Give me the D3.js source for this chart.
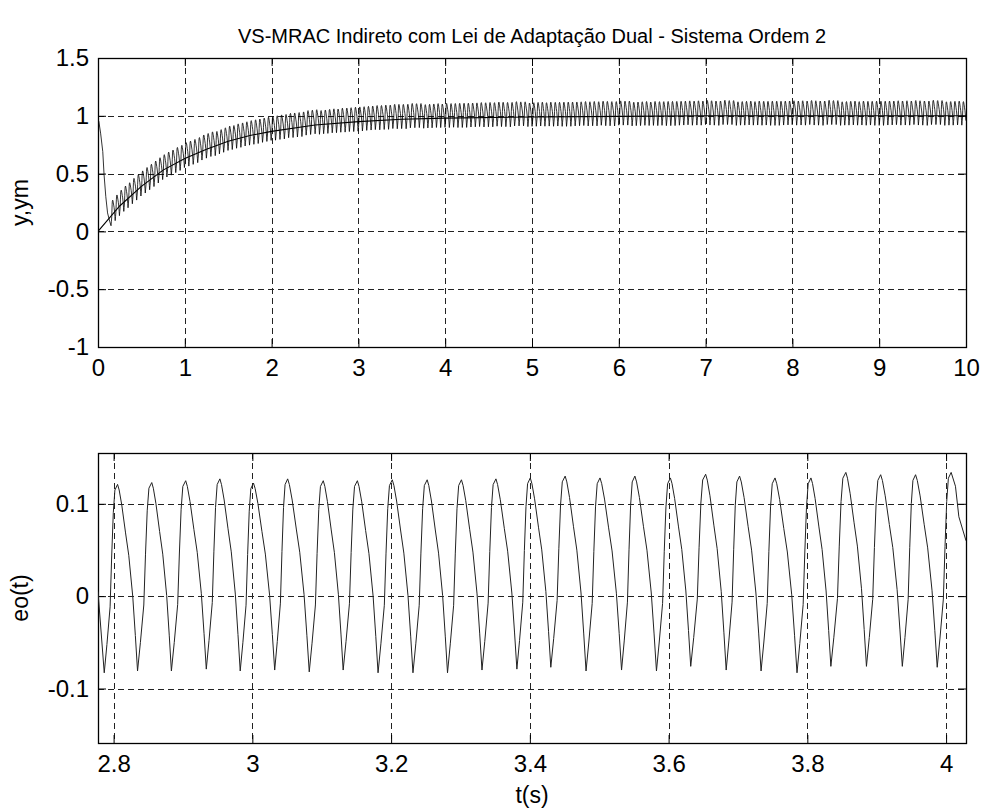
<!DOCTYPE html>
<html>
<head>
<meta charset="utf-8">
<script src="https://cdn.jsdelivr.net/npm/d3@7"></script>
<style>
    body { margin: 0; background: #fff; }
    text { font-family: "Liberation Sans", Arial, sans-serif; fill: #000; }
</style>
</head>
<body>
<div id="chart"></div>
<script>
// model reference ym(t)
const ymT = [0, 0.25, 0.5, 0.75, 1, 1.25, 1.5, 1.75, 2, 2.5, 3, 3.5, 4, 5, 6, 7, 8, 10];
const ymV = [0, 0.22, 0.39, 0.53, 0.63, 0.71, 0.78, 0.83, 0.865, 0.92, 0.95, 0.97, 0.98, 0.99, 0.995, 1, 1, 1];

// initial transient of y before the oscillation starts
const yStartT = [0, 0.01, 0.03, 0.055, 0.07, 0.09, 0.11, 0.13];
const yStartV = [0.97, 0.95, 0.85, 0.69, 0.49, 0.3, 0.16, 0.1];

// eo(t) peaks and troughs
const peakT = [2.8057, 2.8550, 2.9039, 2.9532, 3.0016, 3.0509, 3.1022, 3.1514, 3.2017, 3.2520, 3.3014, 3.3511, 3.4006,
    3.4509, 3.5011, 3.5514, 3.6026, 3.6534, 3.7023, 3.7534, 3.8052, 3.8555, 3.9057, 3.9560, 4.0073];
const peakV = [0.121, 0.123, 0.125, 0.127, 0.1225, 0.127, 0.125, 0.125, 0.126, 0.126, 0.126, 0.127, 0.128,
    0.130, 0.128, 0.130, 0.128, 0.132, 0.130, 0.128, 0.128, 0.134, 0.1315, 0.1315, 0.134];
const troughT = [2.7865, 2.8345, 2.8833, 2.9336, 2.9825, 3.0322, 3.0820, 3.1309, 3.1812, 3.2315, 3.2813, 3.3310, 3.3813,
    3.4302, 3.4810, 3.5322, 3.5825, 3.6319, 3.6830, 3.7333, 3.7851, 3.8339, 3.8852, 3.9369, 3.9872];
const troughV = [-0.083, -0.081, -0.081, -0.079, -0.081, -0.080, -0.082, -0.080, -0.083, -0.083, -0.083, -0.080, -0.079,
    -0.077, -0.081, -0.080, -0.081, -0.076, -0.080, -0.081, -0.083, -0.076, -0.076, -0.076, -0.077];
const eoHeadT = [2.7775], eoHeadV = [0.005];
const eoTailT = [4.0135, 4.0184, 4.0287], eoTailV = [0.119, 0.086, 0.06];

const fallShape = [[0, 1], [0.08, 0.97], [0.21, 0.89], [0.4, 0.74], [0.56, 0.62], [0.76, 0.4], [0.89, 0.19], [1, 0]];
const riseShape = [[0, 0], [0.2, 0.15], [0.44, 0.35], [0.56, 0.62], [0.68, 0.85], [0.8, 0.97], [1, 1]];

const topXTicks = [0, 1, 2, 3, 4, 5, 6, 7, 8, 9, 10];
const topYTicks = [-1, -0.5, 0, 0.5, 1, 1.5];
const botXTicks = [2.8, 3, 3.2, 3.4, 3.6, 3.8, 4];
const botYTicks = [-0.1, 0, 0.1];

const W = 981, H = 810;
const topBox = { left: 98, top: 58, right: 966, bottom: 347 };
const botBox = { left: 98, top: 453, right: 966, bottom: 743 };
const tickFont = 24, labelFont = 23, titleFont = 20;

function Segment(out, t0, v0, t1, v1, shape) {
    shape.forEach(function (p, i) {
        if (i == 0) return;
        let lo = Math.min(v0, v1), hi = Math.max(v0, v1);
        out.push([t0 + p[0] * (t1 - t0), lo + p[1] * (hi - lo)]);
    });
}

// one continuous list of [t, eo] over the bottom window
function BuildError() {
    let pts = [];
    eoHeadT.forEach((t, i) => pts.push([t, eoHeadV[i]]));
    pts.push([troughT[0], troughV[0]]);
    for (let i = 0; i < peakT.length; i++) {
        Segment(pts, troughT[i], troughV[i], peakT[i], peakV[i], riseShape);
        if (i + 1 < troughT.length) {
            Segment(pts, peakT[i], peakV[i], troughT[i + 1], troughV[i + 1], fallShape);
        }
    }
    eoTailT.forEach((t, i) => pts.push([t, eoTailV[i]]));
    return pts;
}

// y = ym + eo, the measured error cycles laid end to end after the transient
function BuildY(errPts) {
    let ym = d3.scaleLinear().domain(ymT).range(ymV).clamp(true);
    let pts = yStartT.map((t, i) => [t, yStartV[i]]);
    let first = errPts.findIndex(p => p[0] == troughT[0]);
    let last = errPts.findIndex(p => p[0] == troughT[troughT.length - 1]);
    let cycle = errPts.slice(first, last);
    let span = troughT[troughT.length - 1] - troughT[0];
    let start = 0.15;
    for (let k = 0; start + k * span < 10; k++) {
        let shift = start + k * span - troughT[0];
        for (let p of cycle) {
            let t = p[0] + shift;
            if (t > 10) break;
            pts.push([t, ym(t) + p[1]]);
        }
    }
    return pts;
}

function DrawPanel(svg, box, x, y, xTicks, yTicks, xFmt, yFmt, id) {
    let g = svg.append("g");

    g.append("clipPath").attr("id", id)
        .append("rect")
        .attr("x", box.left).attr("y", box.top)
        .attr("width", box.right - box.left).attr("height", box.bottom - box.top);

    let grid = g.append("g").attr("class", "grids")
        .attr("stroke", "#222").attr("stroke-width", 1)
        .attr("stroke-dasharray", "6,4").attr("shape-rendering", "crispEdges");
    xTicks.filter(v => x(v) > box.left + 1 && x(v) < box.right - 1).forEach(function (v) {
        grid.append("line").attr("x1", Math.round(x(v)) + 0.5).attr("x2", Math.round(x(v)) + 0.5)
            .attr("y1", box.top).attr("y2", box.bottom);
    });
    yTicks.filter(v => y(v) > box.top + 1 && y(v) < box.bottom - 1).forEach(function (v) {
        grid.append("line").attr("y1", Math.round(y(v)) + 0.5).attr("y2", Math.round(y(v)) + 0.5)
            .attr("x1", box.left).attr("x2", box.right);
    });

    let axisB = g.append("g").attr("transform", `translate(0, ${box.bottom})`)
        .call(d3.axisBottom(x).tickValues(xTicks).tickFormat(xFmt).tickSize(-8).tickSizeOuter(0).tickPadding(12));
    let axisT = g.append("g").attr("transform", `translate(0, ${box.top})`)
        .call(d3.axisTop(x).tickValues(xTicks).tickFormat("").tickSize(-8).tickSizeOuter(0));
    let axisL = g.append("g").attr("transform", `translate(${box.left}, 0)`)
        .call(d3.axisLeft(y).tickValues(yTicks).tickFormat(yFmt).tickSize(-8).tickSizeOuter(0).tickPadding(9));
    let axisR = g.append("g").attr("transform", `translate(${box.right}, 0)`)
        .call(d3.axisRight(y).tickValues(yTicks).tickFormat("").tickSize(-8).tickSizeOuter(0));

    [axisB, axisT, axisL, axisR].forEach(function (a) {
        a.select(".domain").remove();
        a.selectAll("line").attr("stroke", "#000");
        a.selectAll("text").attr("font-size", tickFont).attr("font-family", "Liberation Sans, Arial, sans-serif");
    });

    g.append("rect")
        .attr("x", box.left + 0.5).attr("y", box.top + 0.5)
        .attr("width", box.right - box.left).attr("height", box.bottom - box.top)
        .attr("fill", "none").attr("stroke", "#000").attr("stroke-width", 1.3);

    return g.append("g").attr("clip-path", `url(#${id})`);
}

function Render() {
    let svg = d3.select("#chart").append("svg")
        .attr("width", W).attr("height", H)
        .style("background-color", "#fff");

    let xTop = d3.scaleLinear().domain([0, 10]).range([topBox.left, topBox.right]);
    let yTop = d3.scaleLinear().domain([-1, 1.5]).range([topBox.bottom, topBox.top]);
    let xBot = d3.scaleLinear().domain([2.7775, 4.0287]).range([botBox.left, botBox.right]);
    let yBot = d3.scaleLinear().domain([-0.159, 0.155]).range([botBox.bottom, botBox.top]);

    let errPts = BuildError();
    let yPts = BuildY(errPts);

    let topPlot = DrawPanel(svg, topBox, xTop, yTop, topXTicks, topYTicks, d3.format("d"), d => String(d), "clipTop");
    let botPlot = DrawPanel(svg, botBox, xBot, yBot, botXTicks, botYTicks, d => String(d), d => String(d), "clipBot");

    topPlot.append("path")
        .datum(yPts)
        .attr("fill", "none").attr("stroke", "#000").attr("stroke-width", 0.8)
        .attr("d", d3.line().x(d => xTop(d[0])).y(d => yTop(d[1])));
    topPlot.append("path")
        .datum(ymT.map((t, i) => [t, ymV[i]]))
        .attr("fill", "none").attr("stroke", "#000").attr("stroke-width", 1.1)
        .attr("d", d3.line().x(d => xTop(d[0])).y(d => yTop(d[1])));

    botPlot.append("path")
        .datum(errPts)
        .attr("fill", "none").attr("stroke", "#222").attr("stroke-width", 1)
        .attr("d", d3.line().x(d => xBot(d[0])).y(d => yBot(d[1])));

    svg.append("text")
        .attr("x", (topBox.left + topBox.right) / 2).attr("y", 43)
        .attr("text-anchor", "middle").attr("font-size", titleFont)
        .text("VS-MRAC Indireto com Lei de Adaptação Dual - Sistema Ordem 2");

    svg.append("text")
        .attr("transform", `translate(28, ${(topBox.top + topBox.bottom) / 2}) rotate(-90)`)
        .attr("text-anchor", "middle").attr("font-size", labelFont)
        .text("y,ym");
    svg.append("text")
        .attr("transform", `translate(28, ${(botBox.top + botBox.bottom) / 2}) rotate(-90)`)
        .attr("text-anchor", "middle").attr("font-size", labelFont)
        .text("eo(t)");
    svg.append("text")
        .attr("x", (botBox.left + botBox.right) / 2).attr("y", 803)
        .attr("text-anchor", "middle").attr("font-size", labelFont)
        .text("t(s)");
}

Render();
</script>
</body>
</html>
